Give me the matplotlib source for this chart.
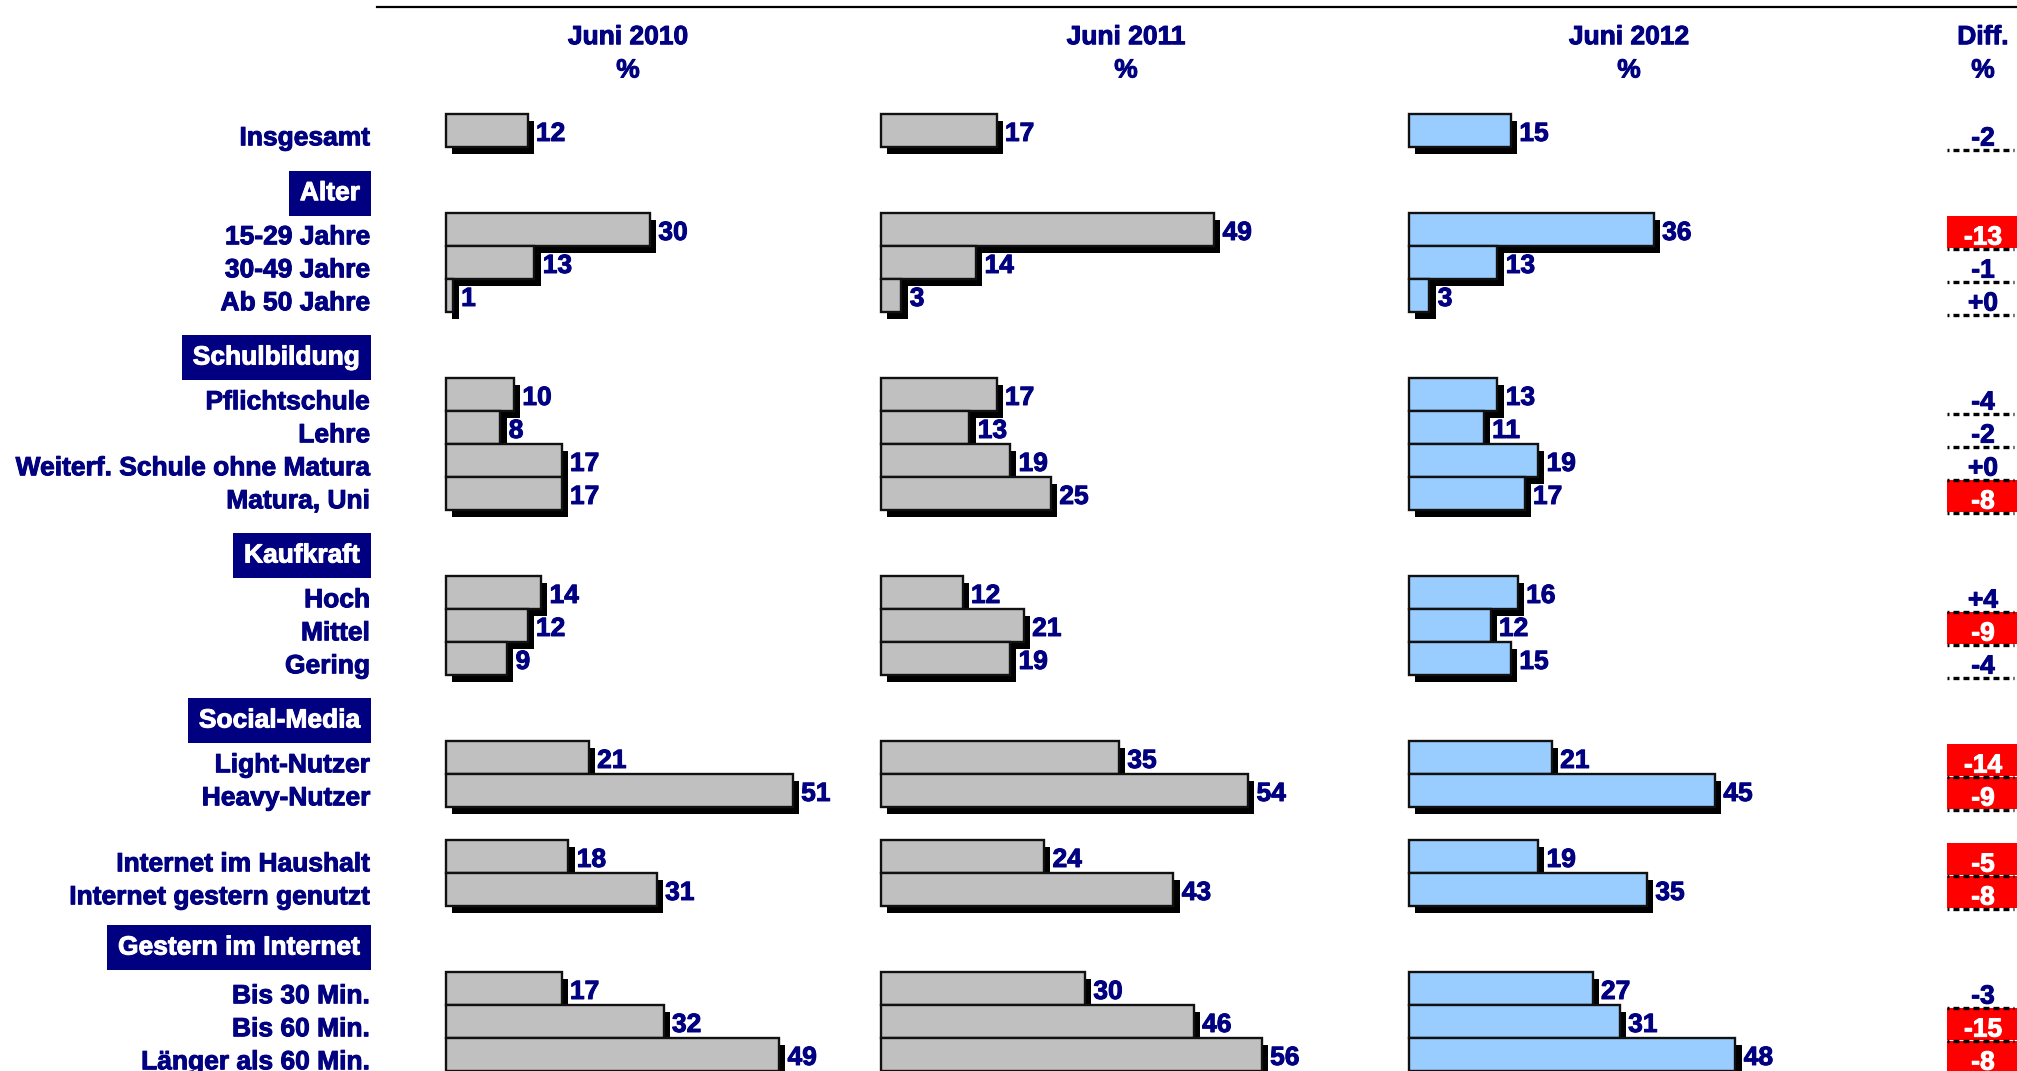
import matplotlib
matplotlib.use("Agg")
import matplotlib.pyplot as plt
import matplotlib.patheffects as pe
from matplotlib.transforms import blended_transform_factory
from matplotlib.lines import Line2D

plt.rcParams['font.family'] = ['Liberation Sans', 'DejaVu Sans']
plt.rcParams['font.weight'] = 'bold'
plt.rcParams['font.size'] = 19
plt.rcParams['lines.scale_dashes'] = False

labels = ["Insgesamt",
          "15-29 Jahre", "30-49 Jahre", "Ab 50 Jahre",
          "Pflichtschule", "Lehre", "Weiterf. Schule ohne Matura", "Matura, Uni",
          "Hoch", "Mittel", "Gering",
          "Light-Nutzer", "Heavy-Nutzer",
          "Internet im Haushalt", "Internet gestern genutzt",
          "Bis 30 Min.", "Bis 60 Min.", "Länger als 60 Min."]
v2010 = [12, 30, 13, 1, 10, 8, 17, 17, 14, 12, 9, 21, 51, 18, 31, 17, 32, 49]
v2011 = [17, 49, 14, 3, 17, 13, 19, 25, 12, 21, 19, 35, 54, 24, 43, 30, 46, 56]
v2012 = [15, 36, 13, 3, 13, 11, 19, 17, 16, 12, 15, 21, 45, 19, 35, 27, 31, 48]
diff = [-2, -13, -1, 0, -4, -2, 0, -8, 4, -9, -4, -14, -9, -5, -8, -3, -15, -8]
years = ["Juni 2010", "Juni 2011", "Juni 2012"]
groups = ["Alter", "Schulbildung", "Kaufkraft", "Social-Media", "Gestern im Internet"]

# layout: row index of each item (0 = top row) and of the group headers
rows = [0, 3, 4, 5, 8, 9, 10, 11, 14, 15, 16, 19, 20, 22, 23, 26, 27, 28]
group_rows = [1.9, 6.88, 12.88, 17.88, 24.76]

W, H = 2017, 1071
NAVY = '#000080'
ROW0, PITCH = 130.5, 33.0   # pixel centre of row 0 and row pitch
PX_PER_UNIT = 6.8

fig = plt.figure(figsize=(W / 100, H / 100), dpi=100)
ylim = ((H - ROW0) / PITCH, -ROW0 / PITCH)

shadow = [pe.SimplePatchShadow(offset=(4.4, -4.8), shadow_rgbFace='black', alpha=1.0),
          pe.Normal()]


def heavy(color):
    # the original text is a bit heavier than Liberation Sans Bold
    return [pe.withStroke(linewidth=0.7, foreground=color)]


def px_axes(x0, x1):
    ax = fig.add_axes([x0 / W, 0, (x1 - x0) / W, 1])
    ax.set_ylim(*ylim)
    ax.axis('off')
    return ax


def header(xc, title):
    fig.text(xc / W, 1 - 34.7 / H, title, ha='center', va='center_baseline', color=NAVY,
             path_effects=heavy(NAVY))
    fig.text(xc / W, 1 - 68 / H, '%', ha='center', va='center_baseline', color=NAVY,
             path_effects=heavy(NAVY))


def bar_column(x0, x1, values, color, title, title_x):
    ax = px_axes(x0, x1)
    ax.set_xlim(0, (x1 - x0) / PX_PER_UNIT)
    bars = ax.barh(rows, values, height=1, color=color, edgecolor='#111111',
                   linewidth=1.7, clip_on=False)
    for b in bars:
        b.set_path_effects(shadow)
    for r, v in zip(rows, values):
        ax.annotate(str(v), (v, r + 0.03), xytext=(6.0, 0), textcoords='offset points',
                    ha='left', va='center_baseline', color=NAVY, path_effects=heavy(NAVY))
    header(title_x, title)
    return ax


ax1 = bar_column(446, 881, v2010, '#c0c0c0', years[0], 628)
bar_column(881, 1409, v2011, '#c0c0c0', years[1], 1126)
bar_column(1409, 1947, v2012, '#99ccff', years[2], 1629)

# row labels and group headers
trans = blended_transform_factory(fig.transFigure, ax1.transData)
for r, lab in zip(rows, labels):
    ax1.text(370 / W, r + 0.16, lab, transform=trans, ha='right', va='center_baseline',
             color=NAVY, path_effects=heavy(NAVY))
for r, g in zip(group_rows, groups):
    ax1.text(360 / W, r, g, transform=trans, ha='right', va='center', color='white',
             path_effects=heavy('white'),
             bbox=dict(boxstyle='square,pad=0.40', fc=NAVY, ec='none'))

# difference column
axd = px_axes(1947, W)
axd.set_xlim(0, 1)
strong = [abs(d) >= 5 for d in diff]
cell_colors = ['#ff0000' if s else 'none' for s in strong]
axd.barh([r + 0.065 for r in rows], 1, height=0.97, color=cell_colors, edgecolor='none')
axd.hlines([r + 0.59 for r in rows], 0, 0.957, colors='black', linewidth=2.4,
           linestyles=[(2.9, (4.3, 2.9))])
for r, d, s in zip(rows, diff, strong):
    c = 'white' if s else NAVY
    axd.text(0.514, r + 0.17, f"{d:+d}", ha='center', va='center_baseline', color=c,
             path_effects=heavy(c))
header(1983, "Diff.")

fig.add_artist(Line2D([377 / W, 1], [1 - 7.3 / H, 1 - 7.3 / H], color='black', lw=1.6))

fig.savefig('out.png', dpi=100)
